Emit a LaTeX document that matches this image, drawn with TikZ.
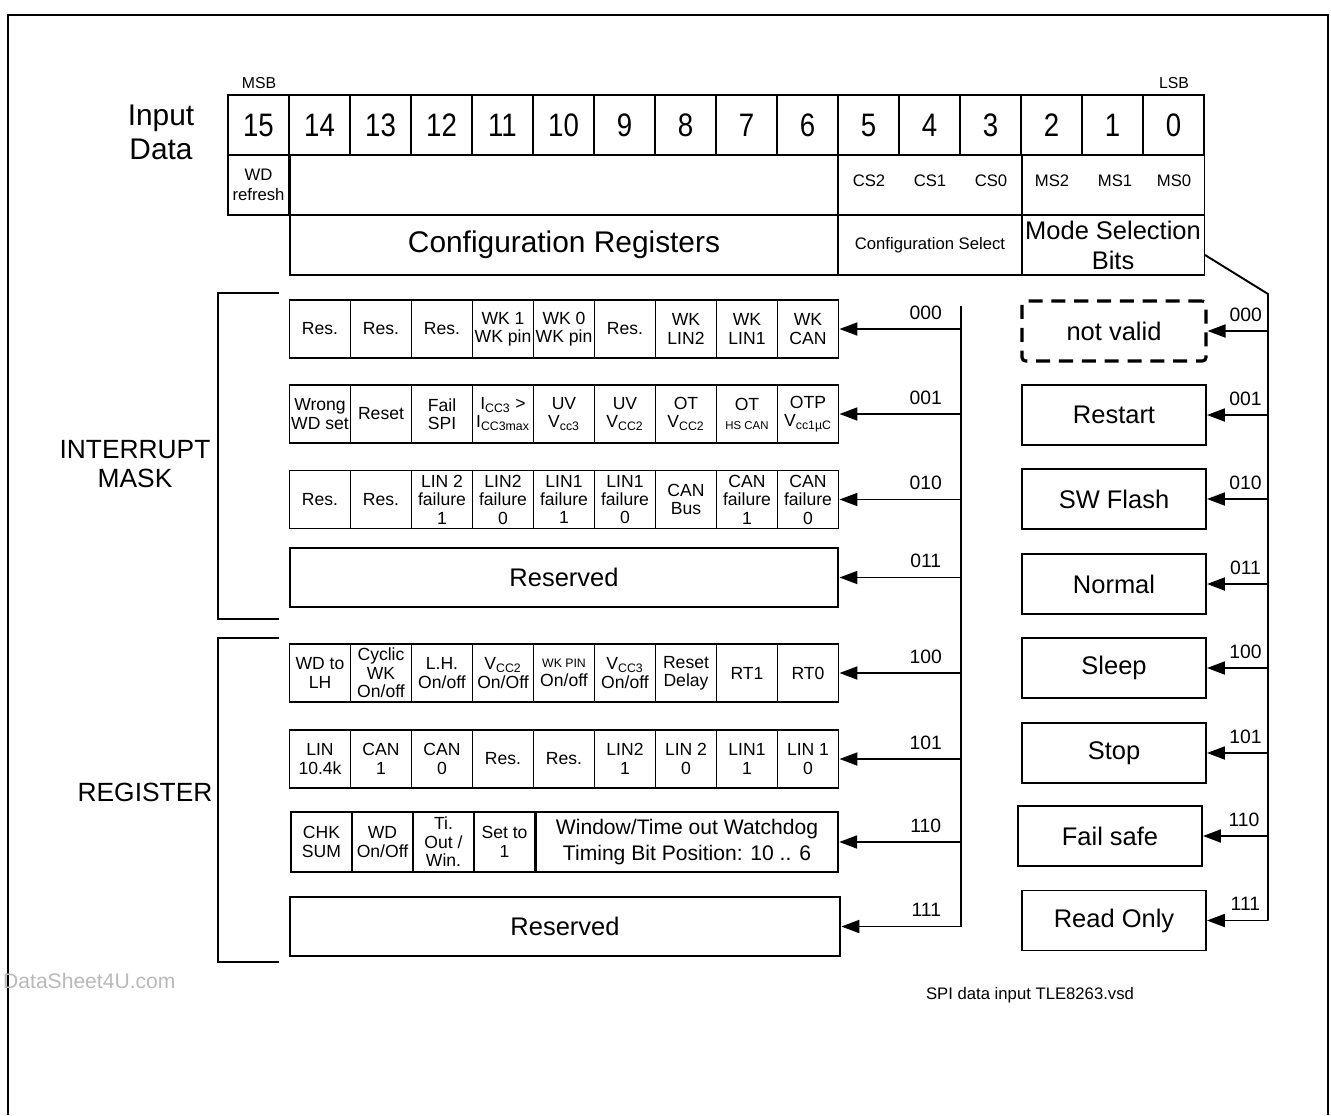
\documentclass[tikz,border=0pt]{standalone}
\usepackage{fontspec}
\setmainfont{Liberation Sans}
\newfontfamily\narrowfont{Liberation Sans}[FakeStretch=0.85]
\usepackage{tikz}
\usetikzlibrary{
    positioning,
    arrows.meta,
}
\tikzset{
    % Cell styles
    cell/.style={rectangle, draw, line width=1.1pt, minimum width=1.22cm,
                 minimum height=1.16cm, inner sep=0pt, align=center,
                 font=\fontsize{10}{10.5}\selectfont},
    bit cell/.style={cell, minimum height=1.2cm, font=\narrowfont\fontsize{18.5}{20}\selectfont},
    head cell/.style={cell, minimum height=1.2cm},
    wide cell/.style={cell, minimum width=10.98cm, minimum height=1.18cm,
                      font=\fontsize{14.5}{16}\selectfont},
    % Mode boxes
    mode box/.style={rectangle, draw, line width=1.1pt, minimum width=3.68cm,
                     minimum height=1.2cm, inner sep=0pt, font=\fontsize{14.5}{16}\selectfont},
    % Arrow styles
    arrow/.style={-{Triangle[length=3.6mm, width=2.6mm]}, line width=1.1pt},
    bus line/.style={line width=1.1pt},
    sel code/.style={font=\fontsize{11}{12}\selectfont, inner sep=1pt},
    % Annotation styles
    brace line/.style={line width=1.1pt},
    group label/.style={align=center, font=\fontsize{15}{17}\selectfont},
    small label/.style={font=\fontsize{9.5}{11}\selectfont, align=center},
}

\begin{document}
\begin{tikzpicture}[x=0.02cm, y=-0.02cm]
    \useasboundingbox (0,0) rectangle (1331,1115);
    \draw[line width=0.8pt] (8,1115) -- (8,15) -- (1328,15) -- (1328,1115);

    % Input data word
    \node[align=center, font=\fontsize{17}{19.5}\selectfont] (inlabel) at (161,132) {Input\\Data};
    \node[small label, font=\fontsize{9}{10}\selectfont] (msb) at (259,83) {MSB};
    \node[small label, font=\fontsize{9}{10}\selectfont] (lsb) at (1174,83) {LSB};
    \foreach \b [count=\i] in {15,14,...,0} {
        \node[bit cell] (bit\b) at ({197.5+61*\i},125) {\b};
    }

    % Bit meaning
    \node[head cell, small label, font=\fontsize{9.5}{11}\selectfont] (wdref) at (258.5,185) {WD\\refresh};
    \node[head cell, minimum width=10.98cm] (cfgfree) at (564,185) {};
    \node[head cell, minimum width=3.66cm] (csbits) at (930,185) {};
    \node[head cell, minimum width=3.66cm] (msbits) at (1113,185) {};
    \foreach \t/\x in {CS2/869, CS1/930, CS0/991, MS2/1052, MS1/1115, MS0/1174} {
        \node[small label] (lbl\t) at (\x,181) {\t};
    }

    % Fields
    \node[head cell, minimum width=10.98cm, font=\fontsize{17}{19}\selectfont] (cfgreg) at (564,245) {Configuration Registers};
    \node[head cell, minimum width=3.66cm, font=\fontsize{9.5}{11}\selectfont] (cfgsel) at (930,245) {Configuration Select};
    \node[head cell, minimum width=3.66cm, font=\fontsize{14.5}{17}\selectfont] (modesel) at (1113,245) {Mode Selection\\Bits};

    % Interrupt mask 000
    \foreach \t [count=\i] in {Res., Res., Res., {WK 1\\WK pin}, {WK 0\\WK pin},
                               Res., {WK\\LIN2}, {WK\\LIN1}, {WK\\CAN}} {
        \node[cell] (imA\i) at ({259+61*\i},329) {\t};
    }

    % Interrupt mask 001
    \foreach \t [count=\i] in {{Wrong\\WD set}, Reset, {Fail\\SPI},
                               {I\textsubscript{CC3} >\\I\textsubscript{CC3max}},
                               {UV\\V\textsubscript{cc3}}, {UV\\V\textsubscript{CC2}},
                               {OT\\V\textsubscript{CC2}}, {OT\\{\fontsize{6.5}{7}\selectfont HS CAN}},
                               {OTP\\V\textsubscript{cc1µC}}} {
        \node[cell] (imB\i) at ({259+61*\i},414) {\t};
    }

    % Interrupt mask 010
    \foreach \t [count=\i] in {Res., Res., {LIN 2\\failure\\1}, {LIN2\\failure\\0},
                               {LIN1\\failure\\1}, {LIN1\\failure\\0}, {CAN\\Bus},
                               {CAN\\failure\\1}, {CAN\\failure\\0}} {
        \node[cell] (imC\i) at ({259+61*\i},499.5) {\t};
    }

    % Interrupt mask 011
    \node[wide cell] (rsvA) at (564,577.5) {Reserved};

    % Register 100
    \foreach \t [count=\i] in {{WD to\\LH}, {Cyclic\\WK\\On/off}, {L.H.\\On/off},
                               {V\textsubscript{CC2}\\On/Off},
                               {{\fontsize{7}{8}\selectfont WK PIN}\\On/off},
                               {V\textsubscript{CC3}\\On/off}, {Reset\\Delay}, RT1, RT0} {
        \node[cell] (rgA\i) at ({259+61*\i},673) {\t};
    }

    % Register 101
    \foreach \t [count=\i] in {{LIN\\10.4k}, {CAN\\1}, {CAN\\0}, Res., Res.,
                               {LIN2\\1}, {LIN 2\\0}, {LIN1\\1}, {LIN 1\\0}} {
        \node[cell] (rgB\i) at ({259+61*\i},759) {\t};
    }

    % Register 110
    \foreach \t [count=\i] in {{CHK\\SUM}, {WD\\On/Off}, {Ti.\\Out /\\Win.}, {Set to\\1}} {
        \node[cell, minimum height=1.2cm] (rgC\i) at ({260.5+61*\i},842) {\t};
    }
    \node[cell, minimum width=6.05cm, minimum height=1.2cm,
          font=\fontsize{12}{15}\selectfont] (wdwin) at (687,842)
          {Window/Time out Watchdog\\Timing Bit Position: 10 .. 6};

    % Register 111
    \node[wide cell, minimum width=11cm, line width=1.6pt] (rsvB) at (565,926.5) {Reserved};

    % Group brackets
    \draw[brace line] (279,293) -- (218,293) -- (218,619) -- (279,619);
    \draw[brace line] (279,638) -- (218,638) -- (218,962) -- (279,962);
    \node[group label] (intmask) at (135,464) {INTERRUPT\\MASK};
    \node[group label] (reglabel) at (145,792) {REGISTER};

    % Configuration select bus
    \coordinate (lbus) at (961,306);
    \draw[bus line] (lbus) -- (lbus |- rsvB.east);
    \foreach \n/\s in {imA9/000, imB9/001, imC9/010, rsvA/011,
                       rgA9/100, rgB9/101, wdwin/110, rsvB/111} {
        \draw[arrow] (lbus |- \n.east) -- node[sel code, pos=0.29, above=4pt] {\s} (\n.east);
    }

    % Modes
    \node[mode box, dash pattern=on 8pt off 5pt, line width=1.8pt, rounded corners=2pt]
        (notvalid) at (1114,331) {not valid};
    \foreach \t/\y [count=\i] in {Restart/415, SW Flash/499, Normal/584, Sleep/668, Stop/753} {
        \node[mode box] (mode\i) at (1114,\y) {\t};
    }
    \node[mode box] (failsafe) at (1110,836) {Fail safe};
    \node[mode box] (readonly) at (1114,920.5) {Read Only};

    % Mode selection bus
    \coordinate (mstap) at (1205,255);
    \coordinate (rbus) at (1268,294);
    \draw[bus line] (mstap) -- (rbus) -- (rbus |- readonly.east);
    \foreach \n/\s in {notvalid/000, mode1/001, mode2/010, mode3/011,
                       mode4/100, mode5/101, failsafe/110, readonly/111} {
        \draw[arrow] (rbus |- \n.east) -- node[sel code, pos=0.37, above=4pt] {\s} (\n.east);
    }

    % Footer
    \node[anchor=west, text=gray!55, font=\fontsize{12}{13}\selectfont] (wmark) at (-3,981) {DataSheet4U.com};
    \node[font=\fontsize{9.5}{11}\selectfont] (fname) at (1030,995) {SPI data input TLE8263.vsd};
\end{tikzpicture}
\end{document}
